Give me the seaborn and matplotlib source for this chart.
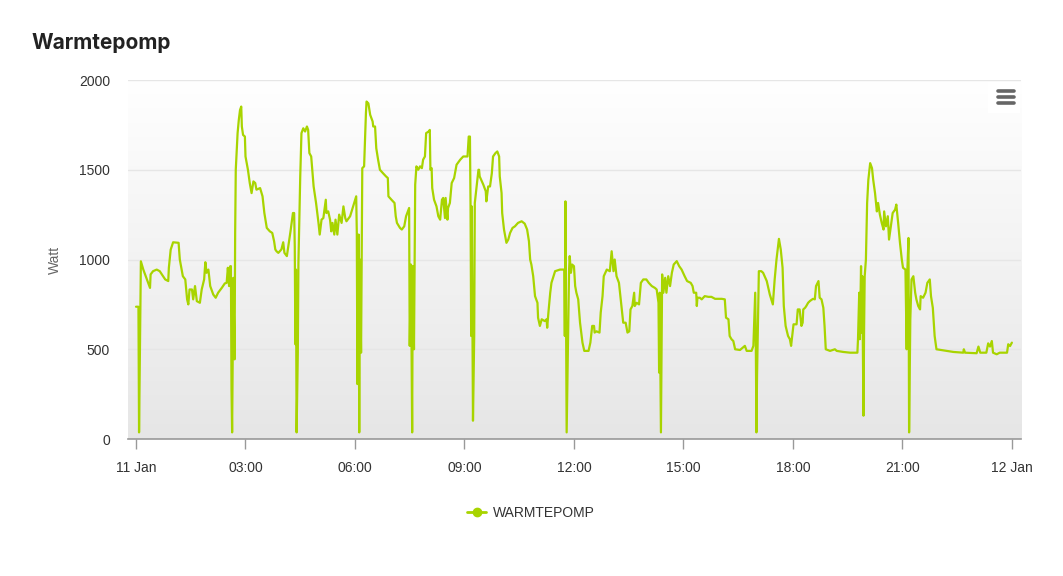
import numpy as np
import pandas as pd
import matplotlib
matplotlib.use("Agg")
import matplotlib.pyplot as plt
import seaborn as sns

# minutes since 11 Jan 00:00 and power in Watt
minutes = [
    0, 4, 5, 7, 8, 12, 18, 23, 24, 28, 34, 39, 48, 53, 54, 57, 61, 70, 72, 77,
    81, 84, 86, 88, 92, 94, 97, 100, 105, 108, 112, 114, 116, 119, 122, 127, 131, 135, 141, 146,
    149, 151, 153, 155, 156, 157, 158, 160, 162, 163, 164, 167, 169, 171, 173, 174, 176, 179, 180, 184,
    187, 190, 193, 196, 198, 204, 208, 211, 215, 220, 224, 227, 229, 231, 234, 239, 242, 244, 248, 252,
    254, 258, 260, 261, 262, 263, 264, 266, 267, 270, 272, 275, 278, 281, 283, 285, 288, 292, 296, 300,
    302, 305, 308, 312, 313, 316, 319, 321, 323, 326, 328, 331, 334, 338, 341, 344, 346, 352, 357, 362,
    363, 364, 366, 367, 368, 370, 372, 375, 378, 379, 382, 385, 389, 390, 393, 395, 398, 401, 406, 411,
    414, 415, 420, 425, 427, 429, 434, 437, 441, 444, 448, 449, 450, 452, 454, 455, 457, 459, 461, 464,
    467, 470, 472, 475, 477, 481, 483, 484, 486, 487, 490, 494, 497, 500, 503, 505, 508, 509, 512, 513,
    516, 519, 523, 527, 533, 538, 545, 547, 549, 550, 551, 552, 554, 556, 557, 560, 563, 564, 565, 571,
    575, 576, 579, 582, 585, 587, 591, 594, 597, 598, 601, 602, 605, 609, 612, 615, 619, 623, 628, 634,
    639, 643, 646, 648, 650, 653, 656, 660, 661, 664, 667, 672, 675, 676, 678, 681, 683, 689, 697, 704,
    705, 706, 708, 710, 712, 713, 715, 717, 720, 722, 724, 727, 730, 734, 737, 744, 747, 750, 753, 754,
    757, 762, 764, 767, 769, 774, 779, 782, 785, 787, 790, 794, 798, 801, 805, 808, 811, 813, 816, 819,
    820, 823, 827, 830, 834, 839, 843, 848, 853, 856, 859, 860, 861, 863, 865, 867, 870, 872, 875, 878,
    881, 884, 889, 893, 897, 902, 906, 912, 915, 917, 921, 922, 923, 927, 930, 935, 941, 946, 952, 963,
    968, 970, 974, 976, 979, 982, 985, 993, 1001, 1004, 1012, 1015, 1018, 1019, 1020, 1021, 1024, 1028, 1031, 1037,
    1042, 1047, 1050, 1053, 1057, 1060, 1063, 1065, 1068, 1072, 1075, 1077, 1081, 1086, 1088, 1091, 1094, 1096, 1097, 1100,
    1102, 1105, 1108, 1113, 1116, 1118, 1122, 1124, 1127, 1130, 1132, 1134, 1141, 1149, 1152, 1163, 1174, 1186, 1187, 1189,
    1190, 1192, 1193, 1194, 1196, 1197, 1198, 1200, 1202, 1204, 1207, 1210, 1212, 1215, 1218, 1220, 1223, 1226, 1229, 1230,
    1233, 1236, 1238, 1241, 1244, 1248, 1250, 1253, 1256, 1259, 1261, 1265, 1267, 1268, 1270, 1271, 1273, 1275, 1278, 1281,
    1283, 1286, 1289, 1290, 1294, 1298, 1301, 1305, 1307, 1310, 1313, 1316, 1327, 1344, 1360, 1361, 1363, 1382, 1385, 1388,
    1398, 1401, 1404, 1407, 1409, 1415, 1420, 1432, 1434, 1437, 1440,
]
watt = [
    737, 737, 37, 648, 990, 944, 889, 842, 917, 935, 944, 935, 889, 880, 954, 1055, 1096, 1093, 1000, 907,
    889, 778, 750, 833, 833, 778, 852, 768, 759, 833, 889, 985, 926, 944, 852, 805, 787, 815, 842, 867,
    870, 954, 852, 963, 963, 278, 37, 898, 444, 1148, 1500, 1704, 1778, 1833, 1852, 1741, 1694, 1685, 1574, 1500,
    1426, 1370, 1435, 1426, 1389, 1398, 1352, 1259, 1176, 1157, 1148, 1102, 1056, 1046, 1037, 1056, 1096, 1037, 1019, 1111,
    1157, 1259, 1259, 1074, 528, 944, 37, 481, 981, 1463, 1704, 1731, 1713, 1741, 1722, 1593, 1574, 1407, 1315, 1204,
    1139, 1222, 1231, 1333, 1259, 1268, 1222, 1157, 1204, 1139, 1222, 1139, 1250, 1204, 1296, 1231, 1213, 1241, 1296, 1352,
    1148, 306, 1139, 37, 1000, 481, 1509, 1519, 1815, 1880, 1870, 1806, 1769, 1741, 1741, 1620, 1556, 1500, 1481, 1463,
    1454, 1352, 1333, 1315, 1241, 1204, 1176, 1167, 1185, 1241, 1278, 1287, 519, 972, 37, 963, 500, 1417, 1519, 1500,
    1519, 1509, 1556, 1574, 1704, 1713, 1722, 1500, 1509, 1398, 1333, 1296, 1241, 1222, 1333, 1343, 1231, 1343, 1222, 1287,
    1315, 1426, 1454, 1528, 1556, 1574, 1574, 1685, 1685, 1296, 574, 1296, 102, 574, 1315, 1407, 1500, 1500, 1463, 1417,
    1380, 1324, 1407, 1407, 1481, 1574, 1593, 1602, 1574, 1463, 1370, 1259, 1167, 1093, 1111, 1148, 1176, 1185, 1204, 1213,
    1200, 1167, 1102, 1000, 972, 907, 796, 759, 676, 630, 667, 657, 667, 620, 704, 815, 870, 935, 944, 944,
    574, 1324, 37, 481, 944, 1019, 926, 972, 963, 852, 815, 778, 648, 537, 491, 491, 537, 630, 630, 593,
    600, 593, 704, 796, 907, 944, 935, 1046, 935, 1000, 907, 870, 741, 648, 648, 593, 600, 722, 741, 815,
    741, 759, 750, 870, 889, 889, 870, 852, 842, 833, 759, 370, 815, 37, 917, 815, 898, 815, 907, 852,
    926, 972, 991, 963, 944, 907, 880, 870, 852, 815, 815, 741, 787, 787, 778, 796, 792, 792, 781, 781,
    778, 676, 667, 574, 556, 546, 500, 496, 519, 491, 491, 519, 815, 537, 37, 352, 935, 935, 926, 880,
    805, 750, 889, 1000, 1115, 1056, 954, 741, 630, 574, 556, 519, 639, 639, 722, 722, 630, 648, 722, 731,
    741, 759, 769, 781, 778, 852, 880, 787, 778, 731, 630, 500, 491, 500, 491, 485, 481, 481, 556, 815,
    556, 963, 593, 907, 130, 611, 907, 1000, 1315, 1444, 1537, 1509, 1444, 1370, 1268, 1315, 1250, 1204, 1167, 1268,
    1185, 1241, 1111, 1185, 1259, 1278, 1306, 1204, 1093, 1000, 954, 944, 500, 926, 1120, 37, 667, 889, 907, 815,
    778, 741, 722, 796, 787, 815, 870, 889, 796, 731, 574, 500, 494, 485, 481, 500, 481, 478, 515, 481,
    481, 533, 515, 546, 481, 472, 481, 481, 528, 518, 537,
]

tick_hours = [0, 3, 6, 9, 12, 15, 18, 21, 24]
tick_labels = ["11 Jan", "03:00", "06:00", "09:00", "12:00", "15:00", "18:00", "21:00", "12 Jan"]
y_ticks = [0, 500, 1000, 1500, 2000]

line_color = "#a8d400"
text_color = "#333333"

df = pd.DataFrame({"hour": np.array(minutes) / 60.0, "watt": watt})

sns.set_style("white")
plt.rcParams["font.family"] = ["Liberation Sans", "DejaVu Sans"]

fig = plt.figure(figsize=(10.63, 5.76), dpi=100)
ax = fig.add_axes([0.1204, 0.2378, 0.8401, 0.6233])

xmin, xmax = -0.22, 24.25
ax.set_xlim(xmin, xmax)
ax.set_ylim(0, 2000)

# vertical background gradient: white on top, light grey at the bottom
grad = np.linspace(0, 1, 256).reshape(-1, 1)
ax.imshow(grad, extent=[xmin, xmax, 0, 2000], origin="upper", aspect="auto",
          cmap=matplotlib.colors.LinearSegmentedColormap.from_list("bg", ["#ffffff", "#e6e6e6"]),
          zorder=0)

for yv in y_ticks:
    ax.axhline(yv, color="#e6e6e6", lw=1, zorder=1)

sns.lineplot(data=df, x="hour", y="watt", ax=ax, color=line_color, lw=1.6, zorder=3,
             label="WARMTEPOMP", legend=False)

for s in ["top", "right", "left"]:
    ax.spines[s].set_visible(False)
ax.spines["bottom"].set_color("#999999")
ax.spines["bottom"].set_linewidth(1.2)
ax.spines["bottom"].set_zorder(4)

ax.set_xticks(tick_hours)
ax.set_xticklabels(tick_labels)
ax.set_yticks(y_ticks)
ax.set_yticklabels([str(v) for v in y_ticks])
ax.tick_params(axis="x", bottom=True, direction="out", length=7, width=1, color="#999999",
               labelsize=10, labelcolor=text_color, pad=9)
ax.tick_params(axis="y", left=False, length=0, labelsize=10, labelcolor=text_color, pad=13)
ax.set_xlabel("")
ax.set_ylabel("Watt", fontsize=10, color="#666666", labelpad=12)

fig.text(31 / 1063, 1 - 43 / 576, "Warmtepomp", fontsize=15, fontweight="bold",
         family=["Inter", "DejaVu Sans"], color="#222222", va="center", ha="left")

# menu button (top right)
fig.patches.append(matplotlib.patches.Rectangle((988 / 1063, 1 - 113 / 576), 32 / 1063, 31 / 576,
                   transform=fig.transFigure, facecolor="#ffffff", edgecolor="none", zorder=5))
for yy in [91, 97, 103]:
    fig.add_artist(plt.Line2D([998 / 1063, 1014 / 1063], [1 - yy / 576, 1 - yy / 576],
                              transform=fig.transFigure, color="#666666", lw=2.6,
                              solid_capstyle="round", zorder=6))

handle = plt.Line2D([], [], color=line_color, lw=2, marker="o", markersize=6)
fig.legend([handle], ["WARMTEPOMP"], loc="center", bbox_to_anchor=(531 / 1063, 1 - 513 / 576),
           frameon=False, fontsize=10, labelcolor=text_color, handlelength=1.4, handletextpad=0.5)

fig.savefig("out.png", dpi=100)
